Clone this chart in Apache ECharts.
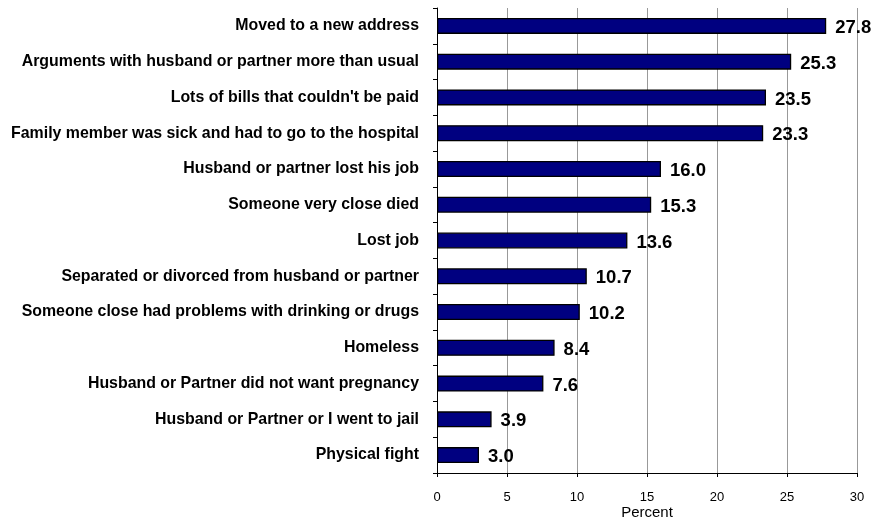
<!DOCTYPE html>
<html>
<head>
<meta charset="utf-8">
<script src="https://cdn.jsdelivr.net/npm/echarts@6/dist/echarts.min.js"></script>
<style>html,body{margin:0;padding:0;background:#fff}#c{width:877px;height:523px}</style>
</head>
<body>
<div id="c"></div>
<script>
const categories = [
  "Moved to a new address",
  "Arguments with husband or partner more than usual",
  "Lots of bills that couldn't be paid",
  "Family member was sick and had to go to the hospital",
  "Husband or partner lost his job",
  "Someone very close died",
  "Lost job",
  "Separated or divorced from husband or partner",
  "Someone close had problems with drinking or drugs",
  "Homeless",
  "Husband or Partner did not want pregnancy",
  "Husband or Partner or I went to jail",
  "Physical fight"
];
const values = [27.8, 25.3, 23.5, 23.3, 16.0, 15.3, 13.6, 10.7, 10.2, 8.4, 7.6, 3.9, 3.0];
const xTicks = [0, 5, 10, 15, 20, 25, 30];

const chart = echarts.init(document.getElementById('c'), null, {renderer: 'canvas'});
chart.setOption({
  animation: false,
  grid: {left: 437, right: 20, top: 8, bottom: 50, containLabel: false, outerBoundsMode: 'none'},
  xAxis: {
    type: 'value', min: 0, max: 30, interval: 5,
    name: 'Percent', nameLocation: 'middle', nameGap: 32, nameMoveOverlap: false,
    nameTextStyle: {fontFamily: 'Liberation Sans, Arial', fontSize: 15, color: '#000'},
    axisLine: {show: true, lineStyle: {color: '#000', width: 1}},
    axisTick: {show: true, length: 4, lineStyle: {color: '#000'}},
    axisLabel: {margin: 18, fontFamily: 'Liberation Sans, Arial', fontSize: 13, color: '#000',
      formatter: v => xTicks.includes(v) ? String(v) : ''},
    splitLine: {show: true, lineStyle: {color: '#999', width: 1}}
  },
  yAxis: {
    type: 'category', data: categories, inverse: true,
    axisLine: {show: true, lineStyle: {color: '#000', width: 1}},
    axisTick: {show: true, length: 4, lineStyle: {color: '#000'}},
    axisLabel: {margin: 18, fontFamily: 'Liberation Sans, Arial', fontSize: 15.9, fontWeight: 'bold', color: '#000'},
    splitLine: {show: false}
  },
  series: [{
    type: 'bar', data: values, barWidth: 16,
    itemStyle: {color: '#000080', borderColor: '#000', borderWidth: 1.3},
    label: {show: true, position: 'right', distance: 9, offset: [0, 2],
      fontFamily: 'Liberation Sans, Arial', fontSize: 18.5, fontWeight: 'bold', color: '#000',
      formatter: p => p.value.toFixed(1)}
  }]
});
</script>
</body>
</html>
